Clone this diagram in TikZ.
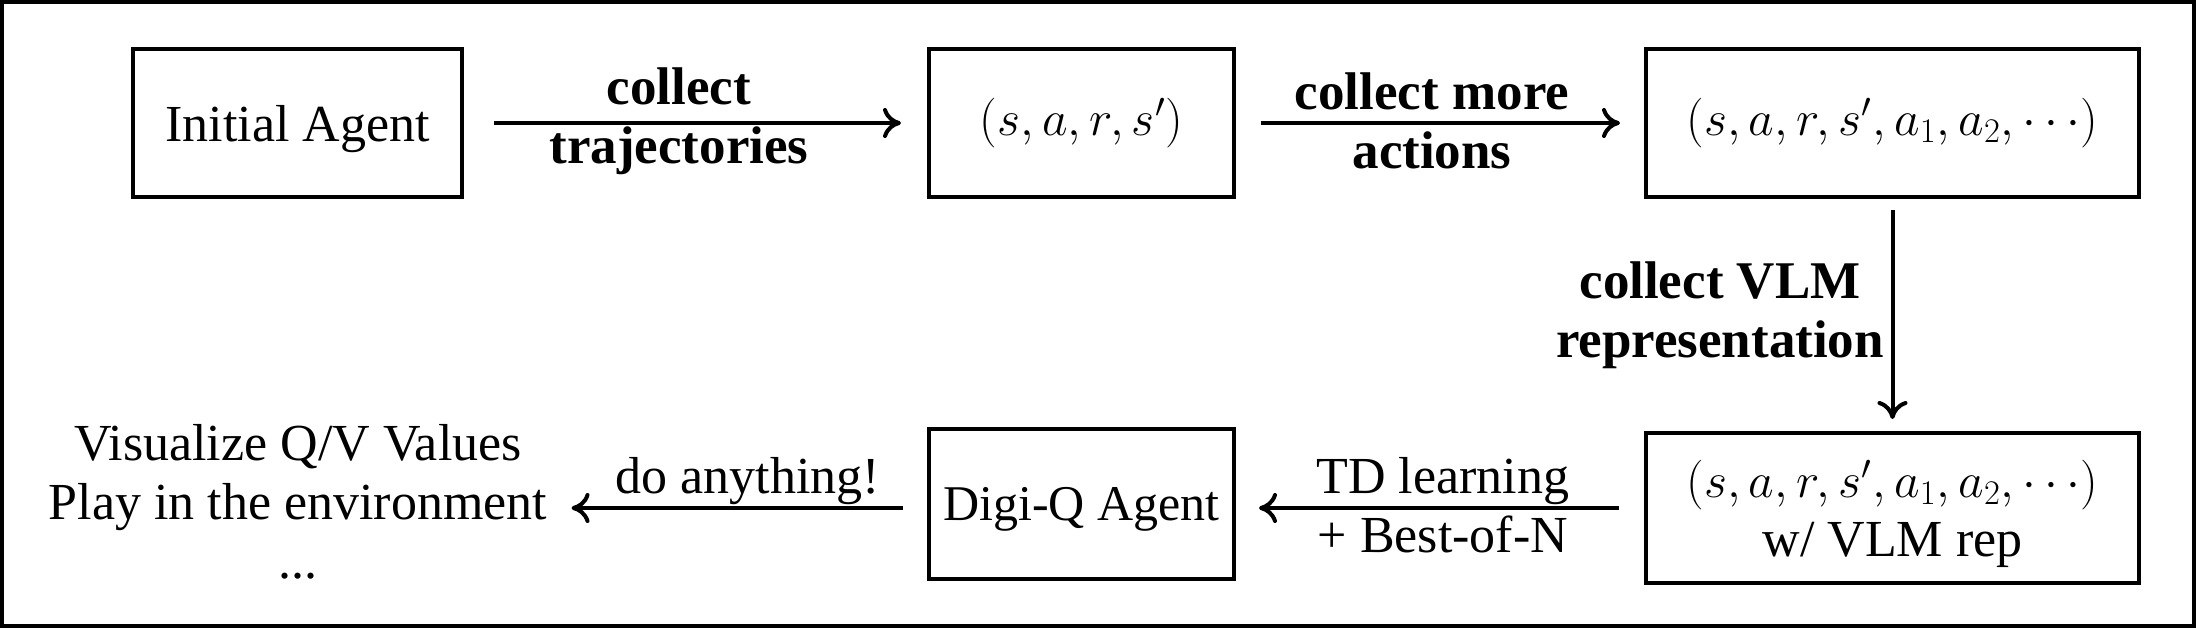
\documentclass[tikz,border=0pt]{standalone}
\usepackage{fontspec}
\setmainfont{Liberation Serif}
\usetikzlibrary{arrows.meta}
\tikzset{
  px/.style={x=0.5pt,y=-0.5pt},
  boxnode/.style={draw,line width=2pt,inner sep=0pt,align=center,font=\fontsize{26}{29.5}\selectfont},
  mathbox/.style={boxnode,font=\fontsize{25.5}{29.5}\selectfont},
  plain/.style={inner sep=0pt,align=center,font=\fontsize{26}{29.5}\selectfont},
  boldlab/.style={inner sep=0pt,align=center,font=\fontsize{26.5}{29.5}\selectfont\bfseries},
  flow/.style={line width=2pt,-{Computer Modern Rightarrow[length=9pt,width=15pt,line width=2pt]}}
}
\begin{document}
\begin{tikzpicture}[px]
\useasboundingbox (0,0) rectangle (2196,628);
\draw[line width=2pt] (2,2) rectangle (2194,626);
% boxes
\node[boxnode,text depth=0pt,minimum width=164.5pt,minimum height=74pt] (init) at (297.5,123) {Initial Agent};
\node[mathbox,minimum width=152.5pt,minimum height=74pt] (sars) at (1081.5,123) {$(s,a,r,s')$};
\node[mathbox,minimum width=246.5pt,minimum height=74pt] (more) at (1892.5,123) {$(s,a,r,s',a_1,a_2,\cdots)$};
\node[boxnode,text depth=0pt,minimum width=246.5pt,minimum height=75pt] (vlm) at (1892.5,508) {\fontsize{25.5}{29.5}\selectfont$(s,a,r,s',a_1,a_2,\cdots)$\\w/ VLM rep};
\node[boxnode,text depth=0pt,font=\fontsize{25}{29.5}\selectfont,minimum width=152.5pt,minimum height=75pt] (digi) at (1081.5,504) {Digi-Q Agent};
\node[plain] (uses) at (298,502) {Visualize Q/V Values\\Play in the environment\\...};
% arrows
\draw[flow,shorten <=15pt,shorten >=13pt] (init.east) -- (sars.west);
\draw[flow,shorten <=12.5pt,shorten >=12pt] (sars.east) -- (more.west);
\draw[flow,shorten <=5.5pt,shorten >=6pt] (more.south) -- (vlm.north);
\draw[flow,shorten <=12.5pt,shorten >=11.5pt] (vlm.west) -- (vlm.west -| digi.east);
\draw[flow,shorten <=12pt,shorten >=12pt] (vlm.west -| digi.west) -- (vlm.west -| uses.east);
% labels
\node[boldlab] (l1) at (679,121) {collect\\trajectories};
\node[boldlab] (l2) at (1432,121) {collect more\\actions};
\node[boldlab] (l3) at (1720,315) {collect VLM\\representation};
\node[plain] (l4) at (1443,505) {TD learning\\+ Best-of-N};
\node[plain] (l5) at (748,481) {do anything!};
\end{tikzpicture}
\end{document}
